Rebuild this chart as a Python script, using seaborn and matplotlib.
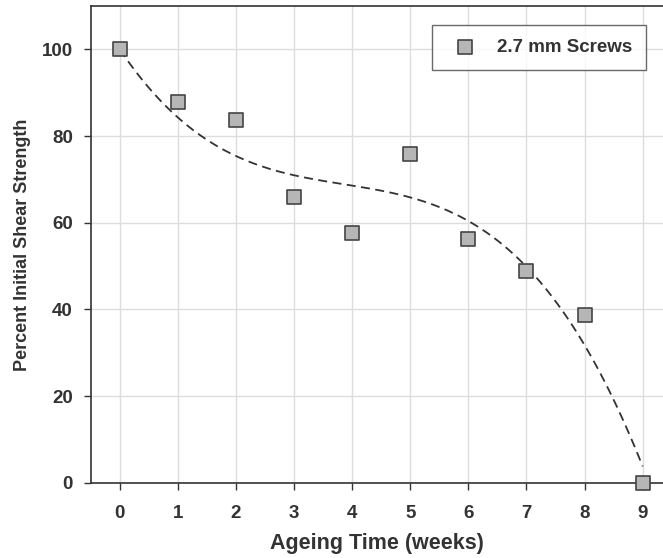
import numpy as np
import pandas as pd
import seaborn as sns
import matplotlib.pyplot as plt

weeks = [0, 1, 2, 3, 4, 5, 6, 7, 8, 9]
strength = [100, 87.8, 83.7, 65.9, 57.6, 75.9, 56.2, 48.8, 38.6, 0]
series_label = "2.7 mm Screws"
x_label = "Ageing Time (weeks)"
y_label = "Percent Initial Shear Strength"

df = pd.DataFrame({"weeks": weeks, "strength": strength})

sns.set_theme(style="whitegrid")
plt.rcParams['font.family'] = ['Liberation Sans', 'DejaVu Sans']

fig = plt.figure(figsize=(6.63, 5.58), dpi=100)
ax = fig.add_axes([0.137, 0.135, 0.863, 0.854])

# cubic trend line fitted to the data, anchored at the initial value
w = np.asarray(weeks, float)
s = np.asarray(strength, float)
A = np.vstack([w, w**2, w**3]).T
c, *_ = np.linalg.lstsq(A, s - s[0], rcond=None)
xs = np.linspace(0, 9, 200)
ys = s[0] + c[0] * xs + c[1] * xs**2 + c[2] * xs**3
trend = pd.DataFrame({"weeks": xs, "strength": ys})
sns.lineplot(data=trend, x="weeks", y="strength", ax=ax, color="#333333",
             linestyle=(0, (5, 3)), linewidth=1.3, legend=False)

sns.scatterplot(data=df, x="weeks", y="strength", ax=ax, marker="s", s=110,
                color="#b6b6b6", edgecolor="#444444", linewidth=1.2,
                label=series_label, zorder=5, clip_on=False)

ax.set_xlim(-0.5, 9.35)
ax.set_ylim(0, 110)
ax.set_xticks(range(0, 10))
ax.set_yticks(range(0, 101, 20))
ax.grid(True, color="#dddddd", linewidth=1)
for sp in ["left", "bottom", "top"]:
    ax.spines[sp].set_visible(True)
    ax.spines[sp].set_color("#333333")
    ax.spines[sp].set_linewidth(1.2)
ax.spines["right"].set_visible(False)
ax.tick_params(axis="both", which="major", length=5, width=1, color="#333333",
               direction="out", bottom=True, left=True, labelsize=13.5,
               labelcolor="#333333")
ax.tick_params(axis="x", pad=11)
ax.tick_params(axis="y", pad=8)
for lbl in ax.get_xticklabels() + ax.get_yticklabels():
    lbl.set_fontweight("bold")
ax.set_xlabel(x_label, fontsize=15.5, fontweight="bold", color="#333333", labelpad=8)
ax.set_ylabel(y_label, fontsize=13, fontweight="bold", color="#333333", labelpad=8)

leg = ax.legend(loc="upper right", bbox_to_anchor=(0.987, 0.981), frameon=True,
                fancybox=False, edgecolor="#444444", fontsize=13.5,
                borderpad=0.75, handletextpad=0.7, markerscale=0.9)
leg.get_frame().set_linewidth(1.0)
for t in leg.get_texts():
    t.set_fontweight("bold")
    t.set_color("#333333")

fig.savefig("out.png", dpi=100)
